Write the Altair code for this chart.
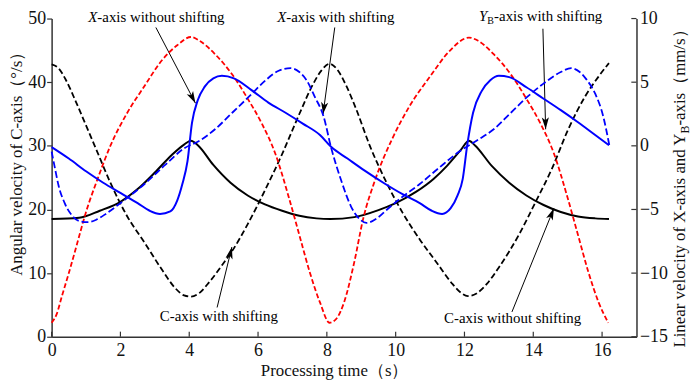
import math
import altair as alt
import pandas as pd

# ---------------- data ----------------
# C-axis without shifting (deg/s, left axis)
c_noshift_t = [0.0, 0.8, 1.4, 2.0, 2.5, 3.0, 3.5, 3.85, 4.05, 4.25, 4.7, 5.2, 5.7, 6.2, 6.7, 7.2, 7.7, 8.1,
               8.8, 9.5, 10.0, 10.6, 11.1, 11.5, 11.9, 12.13, 12.3, 12.8, 13.3, 13.8, 14.3, 14.8, 15.3, 15.8, 16.2]
c_noshift_v = [18.5, 18.7, 19.8, 21.2, 23.2, 25.8, 28.6, 30.2, 30.8, 30.1, 27.0, 24.2, 22.2, 20.8, 19.8, 19.0, 18.6, 18.5,
               18.8, 19.9, 21.0, 22.8, 24.8, 26.9, 29.4, 30.8, 30.1, 26.8, 24.2, 22.2, 20.7, 19.6, 18.9, 18.6, 18.5]

# C-axis with shifting (deg/s, left axis)
c_shift_t = [0.0, 0.2, 0.4, 0.7, 1.0, 1.3, 1.7, 2.2, 2.7, 3.2, 3.6, 3.85, 4.05, 4.3, 4.6, 5.0, 5.25, 5.7, 6.2, 6.7,
             7.2, 7.6, 7.85, 8.08, 8.3, 8.55, 8.85, 9.25, 9.7, 10.2, 10.7, 11.2, 11.65, 11.9, 12.1, 12.35, 12.65,
             13.0, 13.3, 13.6, 14.05, 14.55, 15.0, 15.5, 15.9, 16.2]
c_shift_v = [42.8, 42.2, 40.5, 37.0, 33.2, 29.4, 24.3, 18.9, 14.8, 10.6, 7.6, 6.5, 6.3, 6.9, 8.7, 11.6, 13.5, 17.7, 23.0, 28.7,
             35.0, 39.7, 41.9, 42.9, 42.0, 39.6, 35.8, 30.0, 24.6, 19.5, 15.3, 11.6, 8.3, 6.9, 6.4, 6.8, 8.3,
             10.9, 13.4, 16.2, 21.0, 26.5, 32.4, 37.7, 40.9, 43.0]

# YB-axis with shifting (mm/s, right axis)
yb_shift_t = [0.0, 0.15, 0.3, 0.5, 0.75, 1.0, 1.35, 1.7, 2.2, 2.7, 3.2, 3.65, 4.05, 4.3, 4.75, 5.25, 5.7, 6.1, 6.5, 6.9,
              7.2, 7.5, 7.8, 8.08, 8.3, 8.5, 8.8, 9.05, 9.4, 9.9, 10.4, 11.0, 11.55, 12.13, 12.4, 12.85, 13.35, 13.8,
              14.2, 14.6, 15.0, 15.3, 15.6, 15.9, 16.18]
yb_shift_v = [-13.9, -13.2, -11.8, -10.0, -7.6, -5.2, -2.5, -0.05, 2.6, 4.7, 6.7, 7.9, 8.55, 8.25, 7.2, 5.6, 3.7, 1.8, -0.6, -4.1,
              -7.0, -9.9, -12.3, -13.9, -13.5, -12.3, -9.1, -5.8, -2.7, 0.55, 3.1, 5.45, 7.4, 8.5, 8.25, 7.2, 5.6, 3.7,
              1.8, -0.6, -4.1, -7.0, -9.9, -12.3, -13.9]

# X-axis without shifting (mm/s, right axis)
x_noshift_t = [0.0, 0.5, 1.0, 1.5, 2.0, 2.5, 2.85, 3.15, 3.45, 3.65, 3.8, 3.95, 4.08, 4.25, 4.45, 4.7, 4.95, 5.3, 5.8,
               6.3, 6.8, 7.3, 7.8, 8.13, 8.6, 9.1, 9.7, 10.2, 10.7, 11.05, 11.35, 11.6, 11.8, 11.95, 12.08, 12.25,
               12.5, 12.75, 13.0, 13.3, 13.8, 14.3, 14.8, 15.3, 15.8, 16.2]
x_noshift_v = [-0.1, -1.0, -2.0, -2.9, -3.7, -4.5, -5.1, -5.35, -5.15, -4.3, -3.0, -1.2, 1.8, 3.6, 4.65, 5.3, 5.5, 5.3, 4.4,
               3.4, 2.6, 1.75, 0.85, -0.1, -1.0, -1.95, -3.0, -3.8, -4.5, -5.1, -5.35, -4.9, -3.9, -2.6, 0.05, 2.6,
               4.3, 5.15, 5.5, 5.4, 4.6, 3.7, 2.8, 1.85, 0.85, 0.05]

# X-axis with shifting (mm/s, right axis)
x_shift_t = [0.0, 0.1, 0.2, 0.38, 0.6, 0.85, 1.05, 1.3, 1.6, 2.0, 2.7, 3.3, 3.85, 4.3, 4.75, 5.25, 5.75, 6.2, 6.6, 6.95,
             7.2, 7.4, 7.65, 7.9, 8.13, 8.42, 8.7, 8.95, 9.15, 9.45, 9.75, 10.2, 10.7, 11.25, 11.85, 12.35, 12.85,
             13.35, 13.85, 14.35, 14.8, 15.1, 15.35, 15.55, 15.8, 16.03, 16.21]
x_shift_v = [-0.45, -1.8, -3.1, -4.5, -5.5, -5.95, -6.0, -5.8, -5.3, -4.5, -3.0, -1.5, -0.2, 0.4, 1.3, 2.6, 3.9, 5.1, 5.9, 6.1,
             5.8, 5.2, 3.85, 2.35, -0.2, -2.75, -4.75, -5.75, -6.05, -5.7, -5.0, -4.0, -3.0, -1.75, -0.45, 0.4, 1.3,
             2.6, 3.9, 5.0, 5.8, 6.1, 5.8, 5.2, 4.1, 2.35, 0.05]

x_ticks = [0, 2, 4, 6, 8, 10, 12, 14, 16]
left_ticks = [0, 10, 20, 30, 40, 50]
right_ticks = [-15, -10, -5, 0, 5, 10]

# annotations (data coordinates on the left axis)
ann_split_t = [1.33, 6.82, 12.66]          # point between italic letter and the rest
ann_split_v = [50.2, 50.2, 50.4]
ann_italic = ["X", "X", "Y"]
ann_rest = ["-axis without shifting", "-axis with shifting"]
ann_yb_rest = "-axis with shifting"
ann_c_t = [4.86, 13.4]
ann_c_v = [3.2, 3.0]
ann_c_text = ["C-axis with shifting", "C-axis without shifting"]

arrow_tail_t = [3.03, 8.23, 14.28, 4.81, 13.38]
arrow_tail_v = [48.6, 48.6, 48.4, 4.6, 3.9]
arrow_tip_t = [4.18, 7.89, 14.36, 5.24, 14.6]
arrow_tip_v = [36.7, 35.0, 32.6, 14.1, 20.2]

# ---------------- layout ----------------
FONT = "Liberation Serif"
W, H = 590, 321
XMAX = 17
LDOM = [0, 50]
RDOM = [-15, 10]

xscale = alt.Scale(domain=[0, XMAX], nice=False, zero=False)
x_axis = alt.Axis(values=x_ticks, ticks=False, labelPadding=5, title="Processing time（s）",
                  titleX=285, titleY=34, titleBaseline="middle", titleAlign="center",
                  labelFlush=False)
X = alt.X("t:Q", scale=xscale, axis=x_axis)

lscale = alt.Scale(domain=LDOM, nice=False, zero=False)
l_axis = alt.Axis(values=left_ticks, tickSize=5, labelPadding=1, title="Angular velocity of C-axis（°/s）",
                  titleAngle=270, titleX=-35, titleY=142, titleAlign="center", titleBaseline="middle")
YL = alt.Y("v:Q", scale=lscale, axis=l_axis)

rscale = alt.Scale(domain=RDOM, nice=False, zero=False)
r_axis = alt.Axis(values=right_ticks, orient="right", ticks=False, labelPadding=3, title=None)
YR = alt.Y("v:Q", scale=rscale, axis=r_axis)


def line(t, v, yenc, color, dash=None, width=2.0):
    d = pd.DataFrame({"t": t, "v": v})
    kw = dict(color=color, strokeWidth=width, interpolate="monotone", clip=False)
    if dash:
        kw["strokeDash"] = dash
    return alt.Chart(d).mark_line(**kw).encode(x=X, y=yenc, order="t:Q")


# ---- left group ----
black_solid = line(c_noshift_t, c_noshift_v, YL, "#000000", None, 2.0)
black_dash = line(c_shift_t, c_shift_v, YL, "#000000", [6, 3], 1.8)

bt = pd.DataFrame({"t": x_ticks, "v": [0] * len(x_ticks), "v2": [0.8] * len(x_ticks)})
bottom_ticks = alt.Chart(bt).mark_rule(color="#333333", strokeWidth=1.2).encode(
    x=X, y=YL, y2="v2:Q")

# arrows
px_t = W / XMAX
px_v = H / (LDOM[1] - LDOM[0])
angles = []
for a, b, c, d in zip(arrow_tail_t, arrow_tail_v, arrow_tip_t, arrow_tip_v):
    dx = (c - a) * px_t
    dy = -(d - b) * px_v
    angles.append(math.degrees(math.atan2(dx, -dy)) % 360)
arr = pd.DataFrame({"t": arrow_tail_t, "v": arrow_tail_v, "t2": arrow_tip_t, "v2": arrow_tip_v})
arrow_lines = alt.Chart(arr).mark_rule(color="#000000", strokeWidth=1).encode(
    x=X, y=YL, x2="t2:Q", y2="v2:Q")
heads = pd.DataFrame({"t": arrow_tip_t, "v": arrow_tip_v, "ang": angles})
head_shape = "M0,0 L-0.6,2 L0,1.5 L0.6,2 Z"
arrow_heads = alt.Chart(heads).mark_point(shape=head_shape, filled=True, size=144, color="#000000",
                                          opacity=1, strokeWidth=0).encode(
    x=X, y=YL, angle=alt.Angle("ang:Q", scale=None))

# annotation texts
tf = dict(font=FONT, fontSize=15, color="#000000", baseline="middle")
it = pd.DataFrame({"t": ann_split_t, "v": ann_split_v, "s": ann_italic})
italic_txt = alt.Chart(it).mark_text(align="right", fontStyle="italic", **tf).encode(
    x=X, y=YL, text="s:N")
rest = pd.DataFrame({"t": ann_split_t[:2], "v": ann_split_v[:2], "s": ann_rest})
rest_txt = alt.Chart(rest).mark_text(align="left", **tf).encode(x=X, y=YL, text="s:N")
sub = pd.DataFrame({"t": ann_split_t[2:], "v": ann_split_v[2:], "s": ["B"]})
sub_txt = alt.Chart(sub).mark_text(align="left", dy=5, font=FONT, fontSize=10, color="#000000",
                                   baseline="middle").encode(x=X, y=YL, text="s:N")
ybr = pd.DataFrame({"t": ann_split_t[2:], "v": ann_split_v[2:], "s": [ann_yb_rest]})
yb_rest_txt = alt.Chart(ybr).mark_text(align="left", dx=7, **tf).encode(x=X, y=YL, text="s:N")
ct = pd.DataFrame({"t": ann_c_t, "v": ann_c_v, "s": ann_c_text})
c_txt = alt.Chart(ct).mark_text(align="center", **tf).encode(x=X, y=YL, text="s:N")

left_group = alt.layer(black_dash, black_solid, bottom_ticks, arrow_lines, arrow_heads,
                       italic_txt, rest_txt, sub_txt, yb_rest_txt, c_txt)

# ---- right group ----
red = line(yb_shift_t, yb_shift_v, YR, "#ff0000", [5, 2.5], 1.8)
blue_dash = line(x_shift_t, x_shift_v, YR, "#0000ff", [7, 3], 1.8)
blue_solid = line(x_noshift_t, x_noshift_v, YR, "#0000ff", None, 2.0)

rt = pd.DataFrame({"t": [XMAX - 0.15] * len(right_ticks), "t2": [XMAX] * len(right_ticks), "v": right_ticks})
right_tick_marks = alt.Chart(rt).mark_rule(color="#333333", strokeWidth=1.2).encode(
    x=X, x2="t2:Q", y=YR)

one = pd.DataFrame({"k": [0]})
rtf = dict(font=FONT, color="#111111", angle=270, baseline="alphabetic")
rtitle1 = alt.Chart(one).mark_text(align="right", fontSize=17, **rtf).encode(
    x=alt.value(639), y=alt.value(116), text=alt.value("Linear velocity of X-axis and Y"))
rtitle2 = alt.Chart(one).mark_text(align="left", fontSize=12, dy=4, **rtf).encode(
    x=alt.value(639), y=alt.value(116), text=alt.value("B"))
rtitle3 = alt.Chart(one).mark_text(align="left", fontSize=17, dx=8, **rtf).encode(
    x=alt.value(639), y=alt.value(116), text=alt.value("-axis（mm/s）"))

right_group = alt.layer(red, blue_dash, blue_solid, right_tick_marks, rtitle1, rtitle2, rtitle3)

chart = alt.layer(left_group, right_group).resolve_scale(y="independent").properties(
    width=W, height=H,
    autosize=alt.AutoSizeParams(type="none"),
    padding={"left": 44, "top": 9, "right": 56, "bottom": 44},
).configure_view(stroke=None).configure_axis(
    labelFont=FONT, titleFont=FONT, labelFontSize=18, titleFontSize=17,
    labelColor="#111111", titleColor="#111111", titleFontWeight="normal",
    grid=False, domainColor="#333333", domainWidth=1.5, tickColor="#333333", tickWidth=1.2,
)

chart.save("out.html", embed_options={"renderer": "svg", "actions": False})
